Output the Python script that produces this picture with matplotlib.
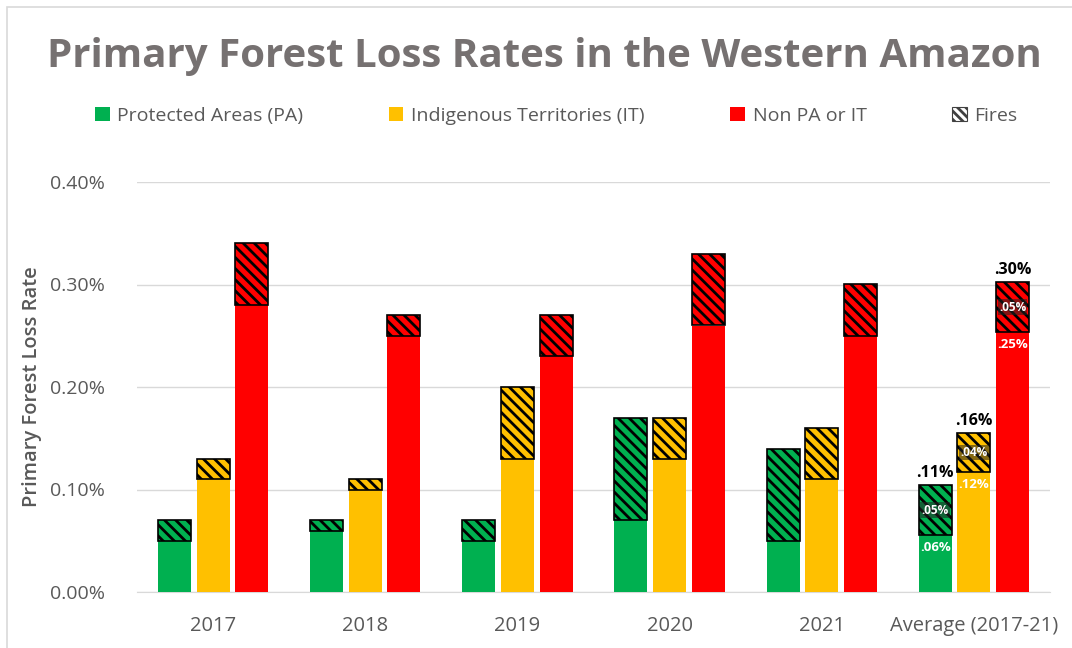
import matplotlib
matplotlib.use("Agg")
import matplotlib.pyplot as plt
from matplotlib.patches import Patch, Rectangle
from matplotlib.ticker import FuncFormatter
import numpy as np

plt.rcParams['font.family'] = ['Open Sans', 'DejaVu Sans']
plt.rcParams['hatch.linewidth'] = 2.0

# values in percent (0.05 means 0.05%)
years = ['2017', '2018', '2019', '2020', '2021', 'Average (2017-21)']
pa_base = [0.05, 0.06, 0.05, 0.07, 0.05, 0.056]
pa_fire = [0.02, 0.01, 0.02, 0.10, 0.09, 0.048]
it_base = [0.11, 0.10, 0.13, 0.13, 0.11, 0.117]
it_fire = [0.02, 0.01, 0.07, 0.04, 0.05, 0.038]
non_base = [0.28, 0.25, 0.23, 0.26, 0.25, 0.254]
non_fire = [0.06, 0.02, 0.04, 0.07, 0.05, 0.048]

# labels on the average group
avg_base_labels = ['.06%', '.12%', '.25%']
avg_fire_labels = ['.05%', '.04%', '.05%']
avg_total_labels = ['.11%', '.16%', '.30%']

GREEN = '#00B050'
YELLOW = '#FFC000'
RED = '#FF0000'
GRAY = '#595959'

fig = plt.figure(figsize=(10.72, 6.48), dpi=100)
ax = fig.add_axes([137 / 1072, 1 - 592 / 648, 913 / 1072, 410 / 648])

# chart border like the excel frame
fig.patches.append(Rectangle((7 / 1072, -0.1), 1.2, (641 + 64.8) / 648,
                             transform=fig.transFigure, fill=False,
                             edgecolor='#d9d9d9', linewidth=1.2))

x = np.arange(len(years))
w = 0.217
off = 0.254
groups = [(pa_base, pa_fire, GREEN), (it_base, it_fire, YELLOW), (non_base, non_fire, RED)]
for k, (base, fire, col) in enumerate(groups):
    pos = x + (k - 1) * off
    ax.bar(pos, base, w, color=col, zorder=3)
    ax.bar(pos, fire, w, bottom=base, color=col, edgecolor='black',
           hatch='\\\\\\', linewidth=1.2, zorder=3)

# data labels for the average group
last = len(years) - 1
for k, (base, fire, col) in enumerate(groups):
    px = last + (k - 1) * off
    ax.text(px, base[last] - 0.006, avg_base_labels[k], ha='center', va='top',
            color='white', fontsize=9.5, fontweight='bold', zorder=5)
    ax.text(px, base[last] + fire[last] / 2, avg_fire_labels[k], ha='center', va='center',
            color='white', fontsize=8.5, fontweight='bold', zorder=5,
            bbox=dict(boxstyle='square,pad=0.1', facecolor='#222222', alpha=0.55, edgecolor='none'))
    ax.text(px, base[last] + fire[last] + 0.004, avg_total_labels[k], ha='center', va='bottom',
            color='black', fontsize=11.5, fontweight='bold', zorder=5)

ax.set_xlim(-0.5, len(years) - 0.5)
ax.set_ylim(0, 0.40)
ax.set_yticks([0, 0.1, 0.2, 0.3, 0.4])
ax.yaxis.set_major_formatter(FuncFormatter(lambda v, p: f'{v:.2f}%'))
ax.set_xticks(x)
ax.set_xticklabels(years)
ax.tick_params(axis='y', length=0, labelsize=14, labelcolor=GRAY, pad=23)
ax.tick_params(axis='x', length=0, labelsize=14.5, labelcolor=GRAY, pad=17)
ax.grid(axis='y', color='#d9d9d9', linewidth=1, zorder=0)
for s in ['top', 'right', 'left']:
    ax.spines[s].set_visible(False)
ax.spines['bottom'].set_color('#d9d9d9')
ax.set_ylabel('Primary Forest Loss Rate', fontsize=14.5, color=GRAY, labelpad=6,
              fontweight='semibold')

fig.text(0.508, 1 - 57 / 648, 'Primary Forest Loss Rates in the Western Amazon',
         ha='center', va='center', fontsize=29, fontweight='bold', color='#767171')

handles = [Patch(facecolor=GREEN), Patch(facecolor=YELLOW), Patch(facecolor=RED),
           Patch(facecolor='white', edgecolor='#404040', hatch='\\\\\\\\', linewidth=0.8)]
names = ['Protected Areas (PA)', 'Indigenous Territories (IT)', 'Non PA or IT', 'Fires']
fig.legend(handles, names, loc='center', bbox_to_anchor=(0.519, 1 - 116 / 648), ncol=4,
           frameon=False, fontsize=14, labelcolor=GRAY, handlelength=0.75,
           handleheight=0.75, handletextpad=0.4, columnspacing=4.4)

fig.savefig('out.png', dpi=100)
